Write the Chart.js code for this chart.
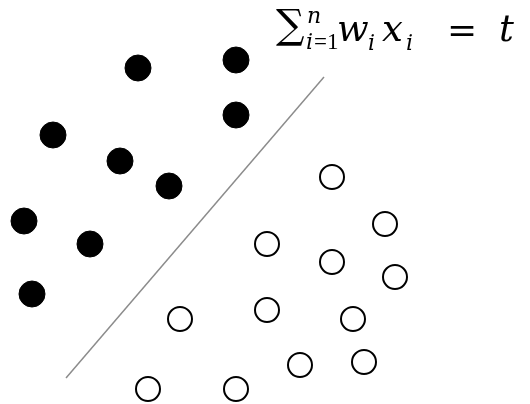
<!DOCTYPE html>
<html>
<head>
<meta charset="utf-8">
<script src="https://cdn.jsdelivr.net/npm/chart.js@4/dist/chart.umd.min.js"></script>
<style>
  html, body { margin: 0; padding: 0; background: #fff; }
  #wrap { width: 530px; height: 404px; position: relative; }
</style>
</head>
<body>
<div id="wrap"><canvas id="plot"></canvas></div>
<script>
// class A (filled) and class B (hollow), y measured upwards
let filledX = [138, 236, 236, 53, 120, 169, 24, 90, 32];
let filledY = [336, 344, 289, 269, 243, 218, 183, 160, 110];
let hollowX = [332, 385, 267, 332, 395, 267, 353, 300, 364, 180, 148, 236];
let hollowY = [227, 180, 160, 142, 127, 94, 85, 39, 42, 85, 15, 15];
// separating line end points
let boundX = [66, 324];
let boundY = [26, 327];

function pts(xs, ys) {
	return xs.map((x, i) => ({x: x, y: ys[i]}));
}

// draws  sum_{i=1}^n w_i x_i = t  in the top right corner
const formulaPlugin = {
	id: 'formula',
	afterDraw(chart) {
		const c = chart.ctx;
		const big = 'italic 37px "DejaVu Serif"';
		const small = 'italic 22px "DejaVu Serif"';
		const up = '23px "Liberation Serif"';
		c.save();
		c.fillStyle = '#000';
		c.textBaseline = 'alphabetic';
		c.textAlign = 'left';
		c.font = '40px "DejaVu Serif"';
		c.fillText('\u2211', 276, 38);
		c.font = small;
		c.fillText('n', 307, 23);
		c.fillText('i', 306, 49);
		c.font = up;
		c.fillText('=1', 314, 49);
		c.font = big;
		c.fillText('w', 337, 41);
		c.font = small;
		c.fillText('i', 368, 50);
		c.font = big;
		c.fillText('x', 382, 41);
		c.font = small;
		c.fillText('i', 406, 50);
		c.font = '36px "DejaVu Serif"';
		c.fillText('=', 447, 42);
		c.font = big;
		c.fillText('t', 499, 41);
		c.restore();
	}
};

try {
	let chart = new Chart(document.getElementById('plot'), {
		type: 'scatter',
		data: {
			datasets: [{
				type: 'line',
				data: pts(boundX, boundY),
				borderColor: '#8c8c8c',
				borderWidth: 1.5,
				pointRadius: 0,
				fill: false
			}, {
				data: pts(filledX, filledY),
				backgroundColor: '#000000',
				borderColor: '#000000',
				borderWidth: 1,
				pointRadius: 13
			}, {
				data: pts(hollowX, hollowY),
				backgroundColor: '#ffffff',
				borderColor: '#000000',
				borderWidth: 2,
				pointRadius: 12
			}]
		},
		options: {
			responsive: true,
			maintainAspectRatio: false,
			animation: false,
			events: [],
			layout: { padding: 0, autoPadding: false },
			plugins: { legend: { display: false }, tooltip: { enabled: false } },
			scales: {
				x: { type: 'linear', min: 0, max: 530, display: false },
				y: { type: 'linear', min: 0, max: 404, display: false }
			}
		},
		plugins: [formulaPlugin]
	});
}
catch (error) {
	console.log(error);
}
</script>
</body>
</html>
